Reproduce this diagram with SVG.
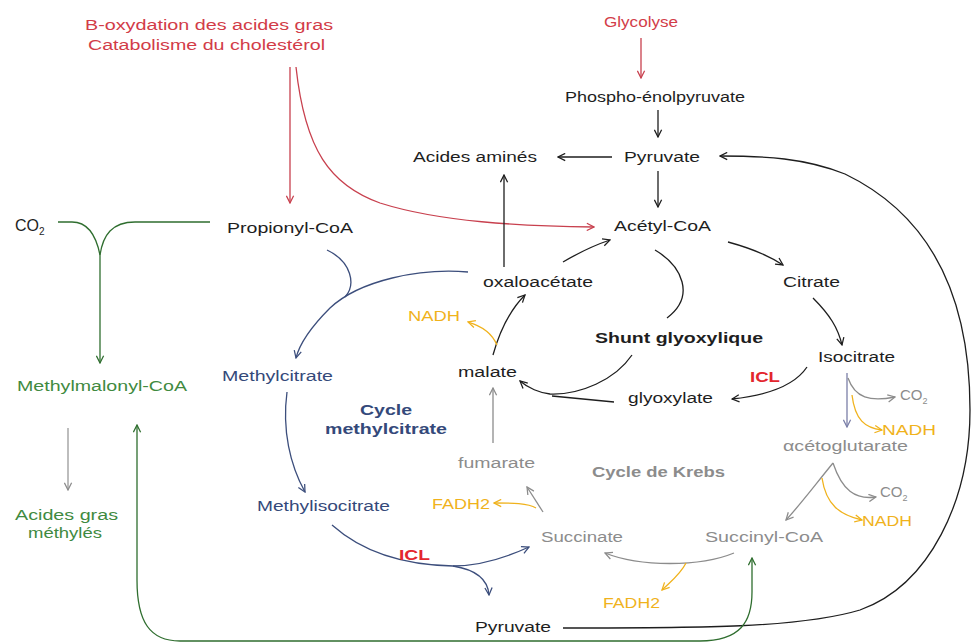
<svg xmlns="http://www.w3.org/2000/svg" width="975" height="643" viewBox="0 0 975 643">
<style>
text{font-family:"Liberation Sans",Arial,sans-serif;font-size:14px;}
.k{fill:#1e1e1e}.r{fill:#d23c48}.g{fill:#3f8a3f}.b{fill:#34497a}.gy{fill:#8c8c8c}.o{fill:#f0b21c}.icl{fill:#e3262e;font-weight:bold}
.bold{font-weight:bold}
.c{fill:none;stroke-width:1.3}
.ck{stroke:#1e1e1e;marker-end:url(#ak)}
.cr{stroke:#c8404e;marker-end:url(#ar)}
.cg{stroke:#2f6e2f;marker-end:url(#ag)}
.cb{stroke:#3c4e7c;marker-end:url(#ab)}
.cy{stroke:#8c8c8c;marker-end:url(#ay)}
.co{stroke:#f0b21c;marker-end:url(#ao)}
.cp{stroke:#7b7fa8;marker-end:url(#ap)}
.nm{marker-end:none}
</style>
<defs>
<marker id="ak" viewBox="0 0 10 10" refX="9" refY="5" markerWidth="9" markerHeight="9" markerUnits="userSpaceOnUse" orient="auto-start-reverse"><path d="M1,1 L9,5 L1,9" fill="none" stroke="#1e1e1e" stroke-width="1.4"/></marker>
<marker id="ar" viewBox="0 0 10 10" refX="9" refY="5" markerWidth="9" markerHeight="9" markerUnits="userSpaceOnUse" orient="auto-start-reverse"><path d="M1,1 L9,5 L1,9" fill="none" stroke="#c8404e" stroke-width="1.4"/></marker>
<marker id="ag" viewBox="0 0 10 10" refX="9" refY="5" markerWidth="9" markerHeight="9" markerUnits="userSpaceOnUse" orient="auto-start-reverse"><path d="M1,1 L9,5 L1,9" fill="none" stroke="#2f6e2f" stroke-width="1.4"/></marker>
<marker id="ab" viewBox="0 0 10 10" refX="9" refY="5" markerWidth="9" markerHeight="9" markerUnits="userSpaceOnUse" orient="auto-start-reverse"><path d="M1,1 L9,5 L1,9" fill="none" stroke="#3c4e7c" stroke-width="1.4"/></marker>
<marker id="ay" viewBox="0 0 10 10" refX="9" refY="5" markerWidth="9" markerHeight="9" markerUnits="userSpaceOnUse" orient="auto-start-reverse"><path d="M1,1 L9,5 L1,9" fill="none" stroke="#8c8c8c" stroke-width="1.4"/></marker>
<marker id="ao" viewBox="0 0 10 10" refX="9" refY="5" markerWidth="9" markerHeight="9" markerUnits="userSpaceOnUse" orient="auto-start-reverse"><path d="M1,1 L9,5 L1,9" fill="none" stroke="#f0b21c" stroke-width="1.4"/></marker>
<marker id="ap" viewBox="0 0 10 10" refX="9" refY="5" markerWidth="9" markerHeight="9" markerUnits="userSpaceOnUse" orient="auto-start-reverse"><path d="M1,1 L9,5 L1,9" fill="none" stroke="#7b7fa8" stroke-width="1.4"/></marker>
</defs>
<rect width="975" height="643" fill="#ffffff"/>

<g id="connectors">
  <!-- red sources -->
  <path class="c cr" d="M641,38 L641,78"/>
  <path class="c cr" d="M290,67 L290,203"/>
  <path class="c cr" d="M296,67 C305,150 330,185 380,203 C440,222 520,226 594,227"/>
  <!-- black main -->
  <path class="c ck" d="M658,110 L658,137"/>
  <path class="c ck" d="M612,157 L558,157"/>
  <path class="c ck" d="M658,171 L658,207"/>
  <path class="c ck" d="M504,267 L504,175"/>
  <path class="c ck" d="M563,262 C580,252 595,245 610,240"/>
  <path class="c ck" d="M728,242 C750,248 768,255 783,265"/>
  <path class="c ck" d="M813,298 C830,315 838,328 842,345"/>
  <path class="c ck" d="M807,367 C795,385 770,395 732,399"/>
  <path class="c ck nm" d="M655,250 C682,266 696,296 667,318"/>
  <path class="c ck" d="M632,355 C615,380 580,395 550,394 C540,393 528,388 520,381"/>
  <path class="c ck nm" d="M614,402 L552,396"/>
  <path class="c ck" d="M493,355 C500,330 510,310 525,295"/>
  <path class="c ck" d="M563,628 C700,628 800,628 860,610 C930,585 970,500 970,410 C970,295 930,215 845,174 C805,158 765,156 720,156"/>
  <!-- green -->
  <path class="c cg nm" d="M58,222 L72,222 C88,222 96,235 100,255"/>
  <path class="c cg nm" d="M210,222 L135,222 C112,222 103,235 100,255"/>
  <path class="c cg" d="M100,255 L100,363"/>
  <path class="c cg" style="marker-start:url(#ag)" d="M137,425 L137,580 C137,622 150,641 180,641 L700,641 C740,641 752,622 752,592 L752,558"/>
  <path class="c cy" style="stroke:#9a9a9a" d="M68,428 L68,490"/>
  <!-- blue methylcitrate cycle -->
  <path class="c cb nm" d="M327,250 C352,262 356,285 345,297"/>
  <path class="c cb" d="M468,272 C420,268 360,280 330,308 C312,326 300,342 296,358"/>
  <path class="c cb" d="M287,392 C282,430 290,465 305,492"/>
  <path class="c cb" d="M332,525 C360,550 400,565 453,566 C480,566 505,558 529,547"/>
  <path class="c cb" d="M453,566 C478,570 488,580 489,595"/>
  <!-- Krebs grey -->
  <path class="c cy" d="M493,443 L493,388"/>
  <path class="c cy" d="M543,512 L527,487"/>
  <path class="c cy" d="M734,553 C700,567 640,567 605,553"/>
  <path class="c cp" d="M847,373 L847,427"/>
  <path class="c cy" d="M848,378 C855,398 870,402 895,397"/>
  <path class="c cy" d="M833,463 C815,485 800,505 786,520"/>
  <path class="c cy" d="M833,463 C842,490 855,500 876,497"/>
  <!-- orange -->
  <path class="c co" d="M497,345 C492,333 482,326 468,322"/>
  <path class="c co" d="M536,508 C528,503 512,503 494,503"/>
  <path class="c co" d="M686,563 C680,575 670,582 662,590"/>
  <path class="c co" d="M852,395 C855,420 865,428 882,430"/>
  <path class="c co" d="M822,478 C826,505 840,515 862,520"/>
</g>

<g id="n-boxydation"><text class="r" x="85" y="30" textLength="248" lengthAdjust="spacingAndGlyphs">B-oxydation des acides gras</text><text class="r" x="88" y="50" textLength="237" lengthAdjust="spacingAndGlyphs">Catabolisme du cholestérol</text></g>
<g id="n-glycolyse"><text class="r" x="604" y="27" textLength="74" lengthAdjust="spacingAndGlyphs">Glycolyse</text></g>
<g id="n-pep"><text class="k" x="565" y="102" textLength="180" lengthAdjust="spacingAndGlyphs">Phospho-énolpyruvate</text></g>
<g id="n-pyruvate"><text class="k" x="624" y="162" textLength="76" lengthAdjust="spacingAndGlyphs">Pyruvate</text></g>
<g id="n-aa"><text class="k" x="413" y="162" textLength="124" lengthAdjust="spacingAndGlyphs">Acides aminés</text></g>
<g id="n-acetylcoa"><text class="k" x="614" y="231" textLength="97" lengthAdjust="spacingAndGlyphs">Acétyl-CoA</text></g>
<g id="n-propionyl"><text class="k" x="227" y="233" textLength="126" lengthAdjust="spacingAndGlyphs">Propionyl-CoA</text></g>
<g id="n-co2a"><text class="k" x="15" y="231" style="font-size:16px">CO<tspan dy="4" style="font-size:10px">2</tspan></text></g>
<g id="n-oxalo"><text class="k" x="483" y="287" textLength="110" lengthAdjust="spacingAndGlyphs">oxaloacétate</text></g>
<g id="n-citrate"><text class="k" x="783" y="287" textLength="57" lengthAdjust="spacingAndGlyphs">Citrate</text></g>
<g id="n-nadh1"><text class="o" x="408" y="321" textLength="52" lengthAdjust="spacingAndGlyphs">NADH</text></g>
<g id="n-shunt"><text class="k bold" x="595" y="343" textLength="168" lengthAdjust="spacingAndGlyphs">Shunt glyoxylique</text></g>
<g id="n-isocitrate"><text class="k" x="818" y="362" textLength="77" lengthAdjust="spacingAndGlyphs">Isocitrate</text></g>
<g id="n-malate"><text class="k" x="458" y="377" textLength="59" lengthAdjust="spacingAndGlyphs">malate</text></g>
<g id="n-icl1"><text class="icl" x="750" y="382" textLength="30" lengthAdjust="spacingAndGlyphs">ICL</text></g>
<g id="n-glyoxylate"><text class="k" x="628" y="403" textLength="85" lengthAdjust="spacingAndGlyphs">glyoxylate</text></g>
<g id="n-methylmalonyl"><text class="g" x="17" y="391" textLength="170" lengthAdjust="spacingAndGlyphs">Methylmalonyl-CoA</text></g>
<g id="n-methylcitrate"><text class="b" x="222" y="381" textLength="111" lengthAdjust="spacingAndGlyphs">Methylcitrate</text></g>
<g id="n-cyclemc"><text class="b bold" x="360" y="415" textLength="52" lengthAdjust="spacingAndGlyphs">Cycle</text><text class="b bold" x="325" y="434" textLength="122" lengthAdjust="spacingAndGlyphs">methylcitrate</text></g>
<g id="n-co2b"><text class="gy" x="900" y="400" style="font-size:15px">CO<tspan dy="4" style="font-size:9px">2</tspan></text></g>
<g id="n-nadh2"><text class="o" x="882" y="435" textLength="54" lengthAdjust="spacingAndGlyphs">NADH</text></g>
<g id="n-akg"><text class="gy" x="783" y="451" textLength="125" lengthAdjust="spacingAndGlyphs">αcétoglutarate</text></g>
<g id="n-fumarate"><text class="gy" x="458" y="468" textLength="77" lengthAdjust="spacingAndGlyphs">fumarate</text></g>
<g id="n-krebs"><text class="gy bold" x="592" y="477" textLength="133" lengthAdjust="spacingAndGlyphs">Cycle de Krebs</text></g>
<g id="n-co2c"><text class="gy" x="880" y="497" style="font-size:15px">CO<tspan dy="4" style="font-size:9px">2</tspan></text></g>
<g id="n-nadh3"><text class="o" x="862" y="526" textLength="50" lengthAdjust="spacingAndGlyphs">NADH</text></g>
<g id="n-acidesgras"><text class="g" x="15" y="520" textLength="103" lengthAdjust="spacingAndGlyphs">Acides gras</text><text class="g" x="28" y="538" textLength="74" lengthAdjust="spacingAndGlyphs">méthylés</text></g>
<g id="n-methylisocitrate"><text class="b" x="257" y="511" textLength="133" lengthAdjust="spacingAndGlyphs">Methylisocitrate</text></g>
<g id="n-fadh1"><text class="o" x="432" y="509" textLength="58" lengthAdjust="spacingAndGlyphs">FADH2</text></g>
<g id="n-succinate"><text class="gy" x="541" y="542" textLength="82" lengthAdjust="spacingAndGlyphs">Succinate</text></g>
<g id="n-succinylcoa"><text class="gy" x="705" y="542" textLength="118" lengthAdjust="spacingAndGlyphs">Succinyl-CoA</text></g>
<g id="n-icl2"><text class="icl" x="399" y="560" textLength="31" lengthAdjust="spacingAndGlyphs">ICL</text></g>
<g id="n-fadh2"><text class="o" x="603" y="608" textLength="57" lengthAdjust="spacingAndGlyphs">FADH2</text></g>
<g id="n-pyruvate2"><text class="k" x="475" y="632" textLength="76" lengthAdjust="spacingAndGlyphs">Pyruvate</text></g>
</svg>
